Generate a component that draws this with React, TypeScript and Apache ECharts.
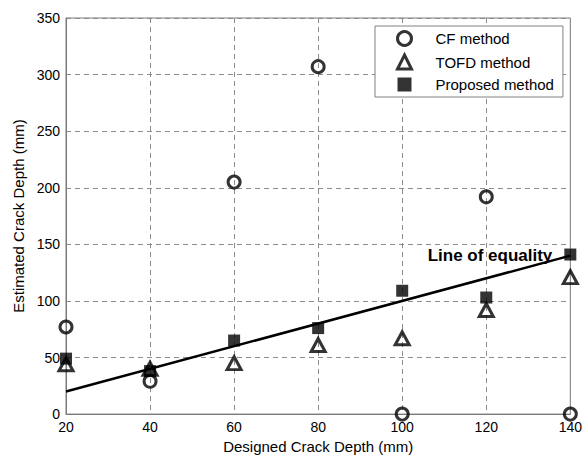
import React, { useEffect, useRef } from "react";
import * as echarts from "echarts";

// Designed crack depths (mm)
const depths = [20, 40, 60, 80, 100, 120, 140];
// Estimated crack depths (mm) per method
const cfMethod = [77, 29, 205, 307, 0, 192, 0];
const tofdMethod = [44, 40, 45, 61, 67, 92, 121];
const proposedMethod = [49, 38, 65, 76, 109, 103, 141];
// Reference line y = x
const equalityLine = [20, 140];

const FONT = "'Liberation Sans', Arial, Helvetica, sans-serif";
const GRID_GRAY = "#8c8c8c";
const FRAME_GRAY = "#7a7a7a";

function pairs(xs: number[], ys: number[]) {
  return xs.map((x, i) => [x, ys[i]]);
}

export default function App() {
  const ref = useRef<HTMLDivElement>(null);

  useEffect(() => {
    if (!ref.current) return;
    const chart = echarts.init(ref.current, undefined, { renderer: "svg" });

    const markerBorder = { borderColor: "#000", borderWidth: 3 };

    chart.setOption({
      animation: false,
      backgroundColor: "#fff",
      textStyle: { fontFamily: FONT },
      grid: {
        left: 66,
        right: 12,
        top: 18,
        bottom: 41,
        show: true,
        borderColor: FRAME_GRAY,
        borderWidth: 1,
        backgroundColor: "transparent",
      },
      legend: {
        orient: "vertical",
        left: 375,
        top: 26,
        padding: [4, 9, 5, 21],
        itemWidth: 14,
        itemHeight: 14,
        itemGap: 6.5,
        backgroundColor: "#fff",
        borderColor: "#808080",
        borderWidth: 1,
        borderRadius: 0,
        textStyle: {
          fontFamily: FONT,
          fontSize: 15,
          color: "#000",
          padding: [0, 0, 0, 19],
        },
        data: [
          {
            name: "CF method",
            icon: "circle",
            itemStyle: { color: "transparent", borderColor: "#000", borderWidth: 3 },
          },
          {
            name: "TOFD method",
            icon: "triangle",
            itemStyle: { color: "transparent", borderColor: "#000", borderWidth: 3 },
          },
          {
            name: "Proposed method",
            icon: "rect",
            itemStyle: { color: "#000", borderWidth: 0 },
          },
        ],
      },
      xAxis: {
        type: "value",
        min: 20,
        max: 140,
        interval: 20,
        name: "Designed Crack Depth (mm)",
        nameLocation: "middle",
        nameGap: 21,
        nameTextStyle: { fontFamily: FONT, fontSize: 15, color: "#000" },
        axisLine: { show: true, lineStyle: { color: FRAME_GRAY, width: 1 } },
        axisTick: { show: false },
        axisLabel: { fontFamily: FONT, fontSize: 14, color: "#000", margin: 6 },
        splitLine: {
          show: true,
          lineStyle: { color: GRID_GRAY, type: [5, 4], width: 1 },
        },
      },
      yAxis: {
        type: "value",
        min: 0,
        max: 350,
        interval: 50,
        name: "Estimated Crack Depth (mm)",
        nameLocation: "middle",
        nameGap: 37,
        nameTextStyle: { fontFamily: FONT, fontSize: 15, color: "#000" },
        axisLine: { show: true, lineStyle: { color: FRAME_GRAY, width: 1 } },
        axisTick: { show: false },
        axisLabel: { fontFamily: FONT, fontSize: 14, color: "#000", margin: 6 },
        splitLine: {
          show: true,
          lineStyle: { color: GRID_GRAY, type: [5, 4], width: 1 },
        },
      },
      series: [
        {
          name: "Line of equality",
          type: "line",
          data: equalityLine.map((v, i) =>
            i === equalityLine.length - 1
              ? {
                  value: [v, v],
                  label: {
                    show: true,
                    formatter: "Line of equality",
                    position: "left",
                    distance: 18,
                    fontFamily: FONT,
                    fontSize: 17,
                    fontWeight: "bold",
                    color: "#000",
                  },
                }
              : { value: [v, v] }
          ),
          symbol: "circle",
          symbolSize: 0,
          showSymbol: true,
          lineStyle: { color: "#000", width: 2.5 },
          itemStyle: { color: "#000" },
          z: 1,
          silent: true,
        },
        {
          name: "CF method",
          type: "scatter",
          data: pairs(depths, cfMethod),
          symbol: "circle",
          symbolSize: 12,
          itemStyle: { color: "transparent", ...markerBorder },
          clip: false,
          z: 3,
        },
        {
          name: "TOFD method",
          type: "scatter",
          data: pairs(depths, tofdMethod),
          symbol: "triangle",
          symbolSize: [14, 13],
          itemStyle: { color: "transparent", ...markerBorder },
          clip: false,
          z: 3,
        },
        {
          name: "Proposed method",
          type: "scatter",
          data: pairs(depths, proposedMethod),
          symbol: "rect",
          symbolSize: 12,
          itemStyle: { color: "#000" },
          clip: false,
          z: 2,
        },
      ],
    });

    return () => chart.dispose();
  }, []);

  return <div ref={ref} style={{ width: 585, height: 459, position: "absolute", left: 0, top: 0 }} />;
}
